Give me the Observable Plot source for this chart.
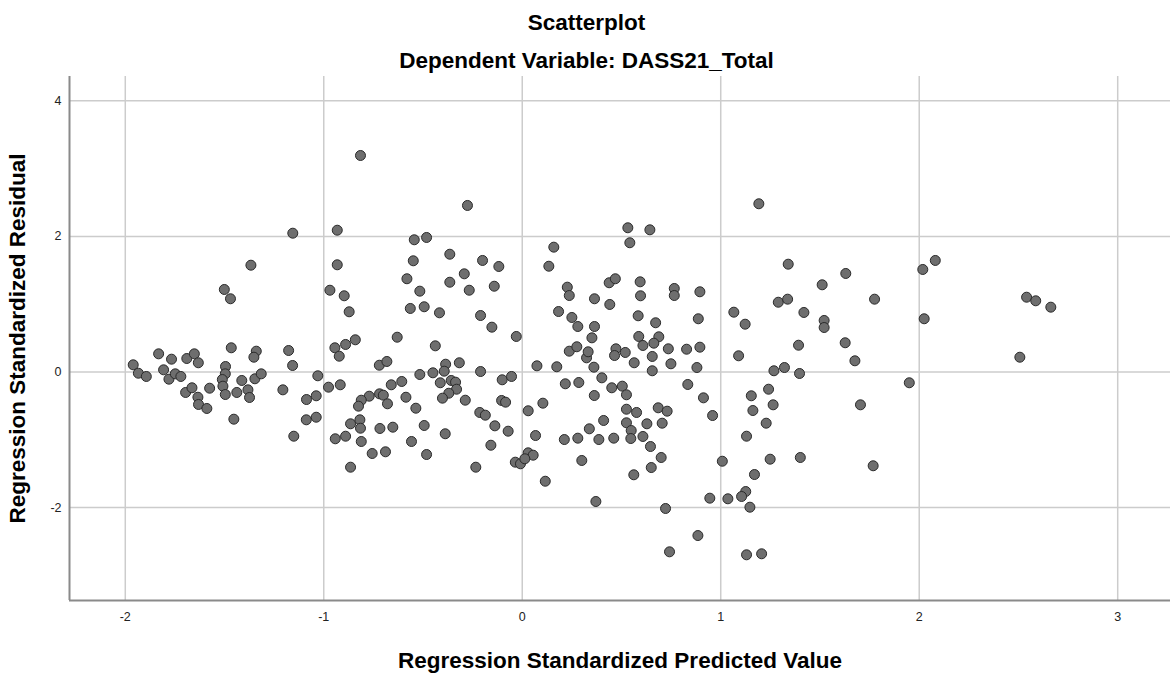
<!DOCTYPE html>
<html>
<head>
<meta charset="utf-8">
<script src="https://cdn.jsdelivr.net/npm/d3@7"></script>
<script src="https://cdn.jsdelivr.net/npm/@observablehq/plot@0.6"></script>
<style>
  html, body { margin: 0; padding: 0; background: #fff; }
  #wrap { position: relative; width: 1173px; height: 674px; font-family: "Liberation Sans", Arial, sans-serif; }
  .t { position: absolute; left: 0; width: 1173px; text-align: center; font-weight: bold; font-size: 22.5px; line-height: 26px; color: #000; white-space: nowrap; }
  #chart { position: absolute; left: 0; top: 0; }
</style>
</head>
<body>
<div id="wrap">
  <div id="chart"></div>
  <div class="t" id="title" style="top:10px;">Scatterplot</div>
  <div class="t" id="subtitle" style="top:48px;">Dependent Variable: DASS21_Total</div>
</div>
<script>
const title = "Scatterplot";
const subtitle = "Dependent Variable: DASS21_Total";
const xLabel = "Regression Standardized Predicted Value";
const yLabel = "Regression Standardized Residual";
const xTicks = [-2, -1, 0, 1, 2, 3];
const yTicks = [-2, 0, 2, 4];

// Regression standardized predicted values
const predicted = [
-1.960,-1.934,-1.894,-1.832,-1.807,-1.780,-1.767,-1.748,-1.720,-1.690,
-1.652,-1.632,-1.696,-1.664,-1.634,-1.631,-1.589,-1.575,-1.466,-1.495,
-1.496,-1.511,-1.508,-1.496,-1.438,-1.413,-1.382,-1.374,-1.453,-1.340,
-1.352,-1.347,-1.315,-1.177,-1.157,-1.206,-1.151,-1.030,-1.087,-1.038,
-1.088,-1.038,-0.976,-0.917,-0.944,-0.922,-0.890,-0.942,-0.890,-0.865,
-0.865,
-1.156,-0.932,-1.367,-0.932,-1.501,-1.470,-0.969,-0.897,-0.872,
-0.815,-0.276,-0.544,-0.482,-0.549,-0.365,-0.200,-0.118,-0.292,-0.581,
-0.516,-0.365,-0.267,-0.141,-0.564,-0.494,-0.417,-0.210,-0.153,-0.030,
-0.630,-0.841,0.159,0.134,0.227,0.237,0.183,0.250,0.280,0.364,
0.364,0.351,0.441,0.438,0.469,
1.192,0.532,0.643,0.542,1.340,1.630,1.511,1.775,1.290,1.337,
1.419,1.521,1.521,1.066,1.123,0.594,0.596,0.766,0.766,0.895,
0.887,0.584,0.672,0.587,0.688,
2.081,2.018,2.025,2.541,2.587,2.663,2.507,1.950,
0.663,0.608,0.472,0.519,0.465,0.736,0.828,0.895,0.655,0.564,
0.749,0.880,0.655,1.090,1.392,1.627,1.676,1.268,1.321,1.397,
0.451,0.504,0.525,0.834,0.913,0.959,0.525,0.576,0.685,0.730,
0.525,0.628,0.705,0.549,0.547,0.608,0.461,0.646,0.700,0.650,
0.562,1.008,1.154,1.241,1.162,1.264,1.229,1.130,1.249,1.401,
1.704,1.768,1.170,1.126,1.105,1.036,0.945,1.147,0.722,0.885,
0.742,1.130,1.206,
-0.438,-0.720,-0.682,-0.516,-0.450,-0.386,-0.393,-0.317,-0.210,-0.413,
-0.358,-0.336,-0.331,-0.370,-0.402,-0.287,-0.607,-0.660,-0.719,-0.700,
-0.771,-0.811,-0.825,-0.679,-0.586,-0.536,-0.101,-0.054,-0.104,-0.084,
-0.214,-0.186,-0.138,-0.071,0.030,0.104,0.074,0.174,0.217,0.285,
0.363,0.401,0.361,0.324,0.332,0.237,0.275,-0.818,-0.815,-0.811,
-0.717,-0.652,-0.494,-0.388,-0.558,-0.756,-0.689,-0.482,-0.158,-0.234,
0.067,-0.035,-0.009,0.030,0.055,0.013,0.116,0.371,0.212,0.280,
0.338,0.410,0.386,0.300
];

// Regression standardized residuals
const residual = [
0.106,-0.018,-0.066,0.268,0.032,-0.106,0.189,-0.027,-0.066,0.199,
0.268,0.136,-0.302,-0.233,-0.372,-0.479,-0.538,-0.239,0.357,0.081,
-0.027,-0.111,-0.209,-0.332,-0.302,-0.125,-0.263,-0.376,-0.696,0.307,
0.218,-0.100,-0.027,0.317,0.096,-0.263,-0.947,-0.056,-0.406,-0.351,
-0.705,-0.667,-0.224,-0.189,0.357,0.233,0.406,-0.985,-0.947,-0.764,
-1.404,
2.047,2.091,1.575,1.581,1.217,1.080,1.206,1.124,0.888,
3.193,2.456,1.950,1.984,1.640,1.737,1.645,1.556,1.448,1.375,
1.192,1.324,1.206,1.265,0.937,0.962,0.873,0.833,0.661,0.524,
0.513,0.475,1.841,1.560,1.251,1.128,0.892,0.804,0.671,1.080,
0.671,0.504,0.996,1.316,1.375,
2.481,2.127,2.097,1.906,1.590,1.453,1.286,1.074,1.029,1.074,
0.878,0.760,0.656,0.882,0.705,1.330,1.124,1.232,1.128,1.183,
0.785,0.829,0.726,0.524,0.519,
1.645,1.512,0.785,1.103,1.050,0.956,0.218,-0.159,
0.425,0.391,0.342,0.288,0.243,0.342,0.336,0.366,0.229,0.136,
0.121,0.066,0.018,0.239,0.395,0.431,0.165,0.018,0.066,-0.022,
-0.233,-0.209,-0.336,-0.184,-0.381,-0.642,-0.549,-0.597,-0.528,-0.578,
-0.749,-0.764,-0.755,-0.863,-0.981,-0.951,-0.976,-1.099,-1.261,-1.409,
-1.516,-1.316,-0.351,-0.254,-0.568,-0.484,-0.755,-0.947,-1.286,-1.261,
-0.484,-1.383,-1.512,-1.763,-1.836,-1.870,-1.861,-1.994,-2.013,-2.412,
-2.652,-2.696,-2.681,
0.386,0.100,0.155,-0.037,-0.012,0.115,0.012,0.136,0.007,-0.159,
-0.125,-0.150,-0.254,-0.313,-0.386,-0.416,-0.140,-0.189,-0.322,-0.342,
-0.357,-0.416,-0.504,-0.469,-0.372,-0.534,-0.115,-0.066,-0.420,-0.445,
-0.597,-0.637,-0.794,-0.873,-0.572,-0.460,0.091,0.077,-0.174,-0.155,
-0.347,-0.086,0.071,0.209,0.298,0.307,0.372,-0.705,-0.829,-1.025,
-0.833,-0.814,-0.789,-0.911,-1.025,-1.202,-1.177,-1.217,-1.080,-1.404,
-0.937,-1.330,-1.354,-1.192,-1.227,-1.280,-1.611,-1.910,-0.996,-0.976,
-0.838,-0.715,-0.996,-1.305
];

const points = predicted.map((p, i) => ({predicted: p, residual: residual[i]}));

const xDomain = [-2.281, 3.266];
const yDomain = [-3.37, 4.358];
const fmt = d => String(d);

const chart = Plot.plot({
  width: 1173,
  height: 674,
  marginLeft: 69,
  marginRight: 3,
  marginTop: 76,
  marginBottom: 74,
  style: {fontFamily: "'Liberation Sans', Arial, sans-serif", background: "#fff", color: "#222"},
  x: {domain: xDomain, ticks: xTicks, label: null},
  y: {domain: yDomain, ticks: yTicks, label: null},
  marks: [
    Plot.gridX(xTicks, {stroke: "#cccccc", strokeOpacity: 1, strokeWidth: 1.5}),
    Plot.gridY(yTicks, {stroke: "#cccccc", strokeOpacity: 1, strokeWidth: 1.5}),
    Plot.ruleX([xDomain[0]], {stroke: "#8a8a8a", strokeWidth: 2}),
    Plot.ruleY([yDomain[0]], {stroke: "#8a8a8a", strokeWidth: 2}),
    Plot.axisX(xTicks, {tickSize: 0, tickPadding: 12, fontSize: 12.5, fill: "#222", label: null, tickFormat: fmt}),
    Plot.axisY(yTicks, {tickSize: 0, tickPadding: 8, fontSize: 12.5, fill: "#222", label: null, tickFormat: fmt}),
    Plot.dot(points, {x: "predicted", y: "residual", r: 5, fill: "#6e6e6e", fillOpacity: 1, stroke: "#2a2a2a", strokeWidth: 1}),
    Plot.text([xLabel], {frameAnchor: "bottom", dy: 60, fontSize: 22.5, fontWeight: "bold", fill: "#000", textAnchor: "middle", lineAnchor: "middle"}),
    Plot.text([yLabel], {frameAnchor: "left", dx: -52, rotate: -90, fontSize: 22.5, fontWeight: "bold", fill: "#000", textAnchor: "middle", lineAnchor: "middle"})
  ]
});
document.getElementById("chart").appendChild(chart);
</script>
</body>
</html>
